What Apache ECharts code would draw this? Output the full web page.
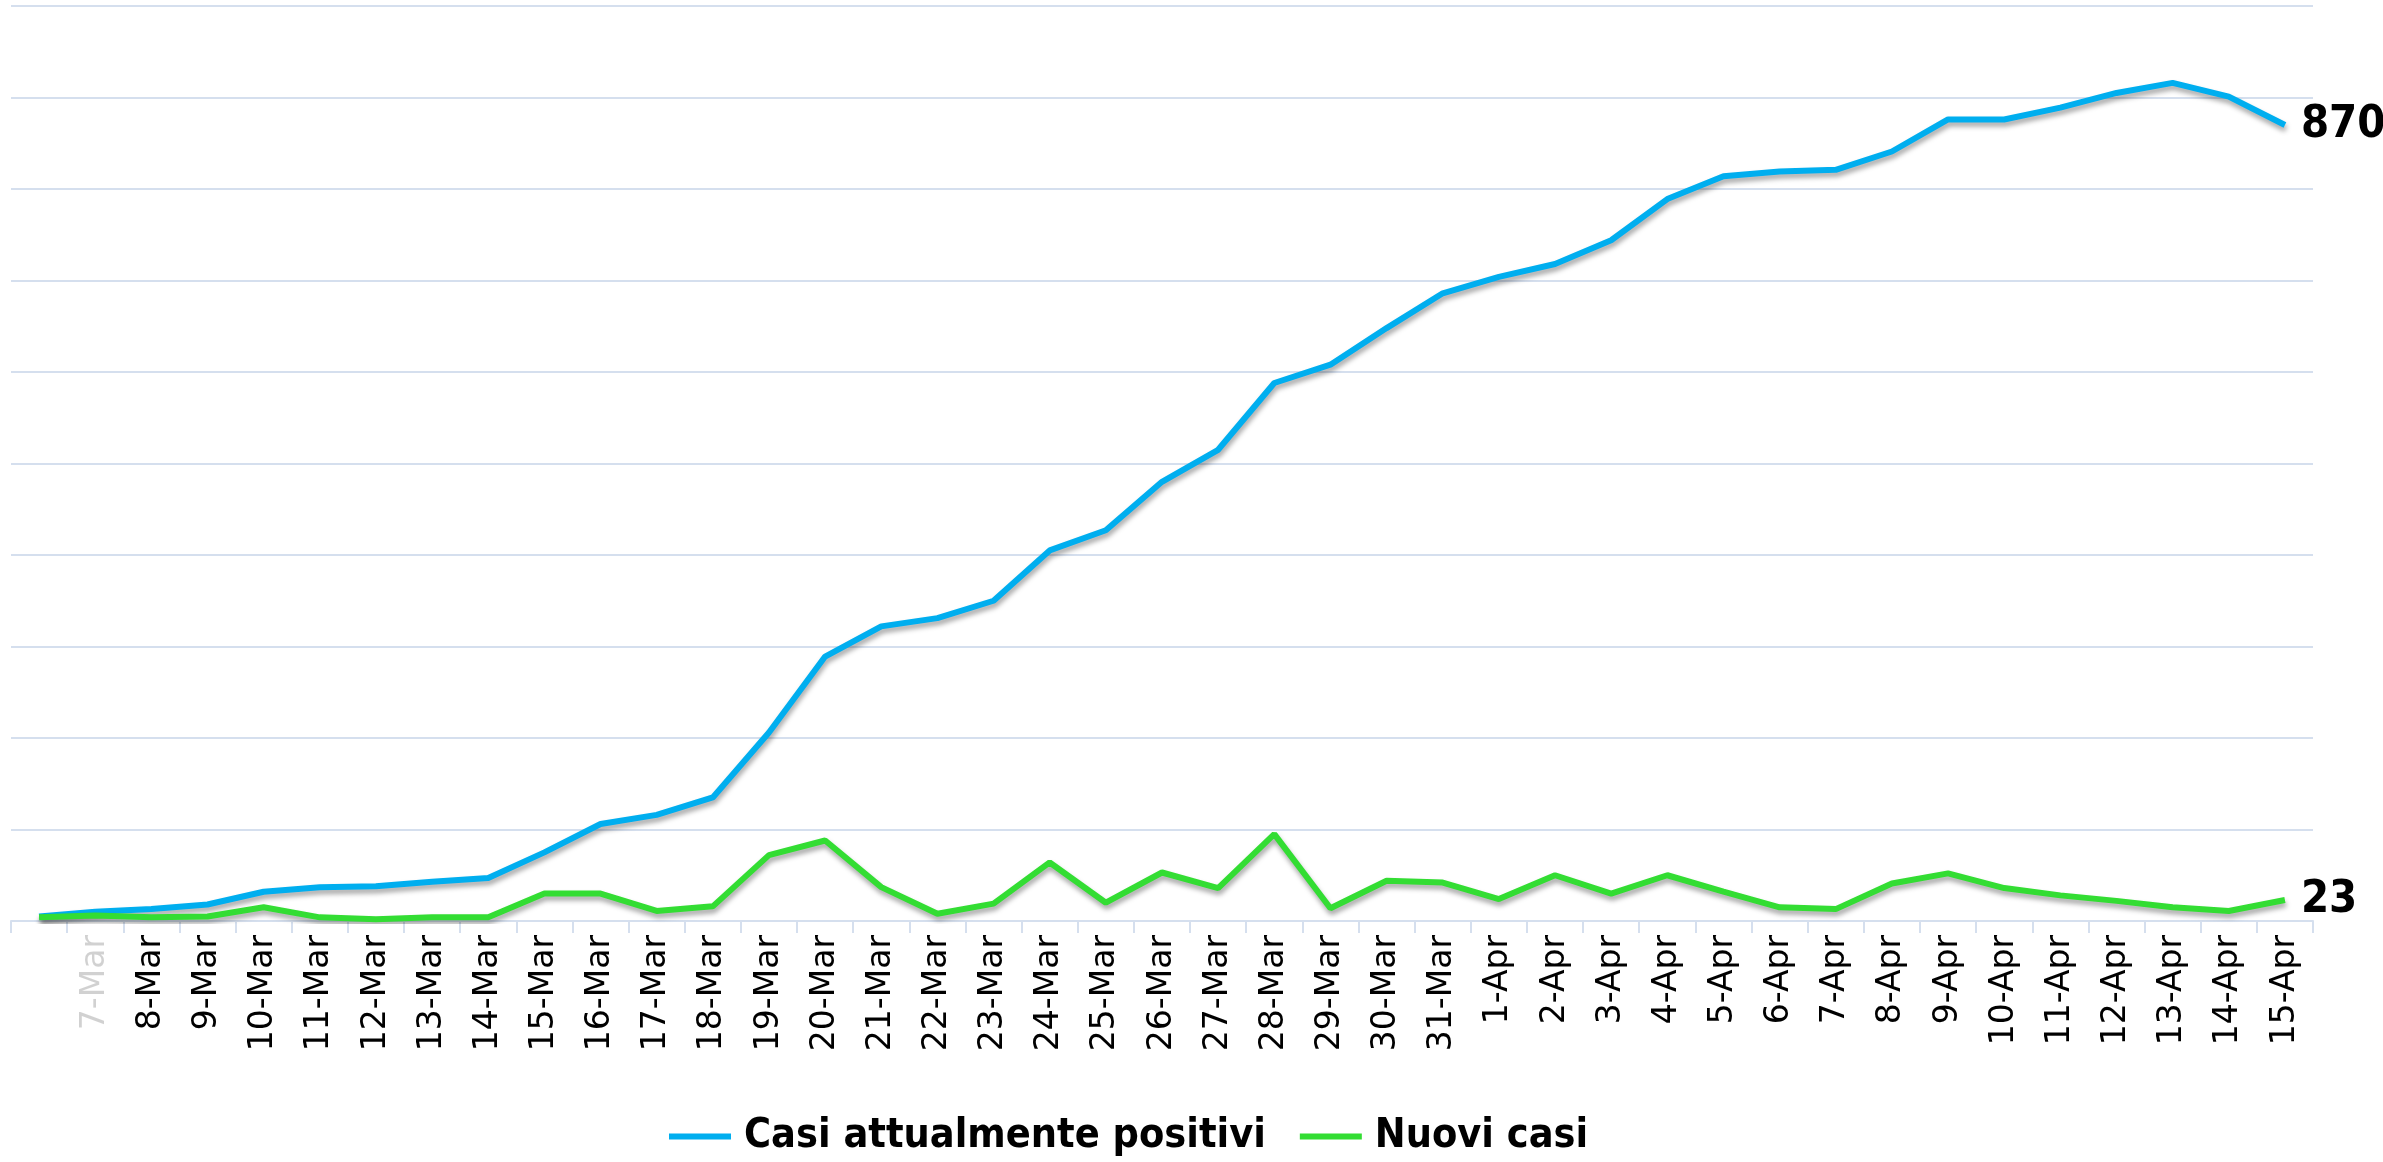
<!DOCTYPE html>
<html><head><meta charset="utf-8">
<script src="https://cdn.jsdelivr.net/npm/echarts@6/dist/echarts.min.js"></script>
<style>html,body{margin:0;padding:0;background:#fff}#c{width:2383px;height:1162px}</style>
</head><body><div id="c"></div>
<script>
const categories = ['6-Mar','7-Mar','8-Mar','9-Mar','10-Mar','11-Mar','12-Mar','13-Mar','14-Mar','15-Mar','16-Mar','17-Mar','18-Mar','19-Mar','20-Mar','21-Mar','22-Mar','23-Mar','24-Mar','25-Mar','26-Mar','27-Mar','28-Mar','29-Mar','30-Mar','31-Mar','1-Apr','2-Apr','3-Apr','4-Apr','5-Apr','6-Apr','7-Apr','8-Apr','9-Apr','10-Apr','11-Apr','12-Apr','13-Apr','14-Apr','15-Apr'];
const positivi = [5,10,13,18,32,37,38,43,47,75,106,116,135,206,289,322,331,350,405,427,480,515,588,608,648,686,704,718,744,789,814,819,821,841,876,876,889,905,916,901,870];
const nuovi = [4,6,4,5,15,4,2,4,4,30,30,11,16,72,88,37,8,19,64,20,53,36,95,14,44,42,24,50,30,50,32,15,13,41,52,36,28,22,15,11,23];
const seriesNames = ['Casi attualmente positivi','Nuovi casi'];

const chart = echarts.init(document.getElementById('c'));
const gridColor = '#D5DFEE';
const condensed = '"Liberation Sans Narrow","DejaVu Sans Condensed",sans-serif';
const xData = categories.map((c, i) => {
  if (i === 0) return {value: c, textStyle: {color: 'rgba(0,0,0,0)'}};
  if (i === 1) return {value: c, textStyle: {color: 'rgba(0,0,0,0.18)'}};
  return c;
});
const shadow = {shadowColor: 'rgba(0,0,0,0.35)', shadowBlur: 5, shadowOffsetY: 4, shadowOffsetX: 1};
const endLbl = {show: true, formatter: '{c}', distance: 16, fontFamily: condensed, fontWeight: 'bold', fontSize: 45, color: '#000'};
chart.setOption({
  animation: false,
  grid: {left: 11, right: 70, top: 6, bottom: 241},
  legend: {
    left: 664, top: 1111, itemWidth: 62, itemHeight: 6, itemGap: 34, icon: 'rect',
    textStyle: {fontFamily: condensed, fontWeight: 'bold', fontSize: 41, color: '#000', padding: [0,0,0,8]},
    data: seriesNames
  },
  xAxis: {
    type: 'category', data: xData, boundaryGap: true,
    axisLine: {lineStyle: {color: gridColor, width: 2}},
    axisTick: {show: true, length: 12, lineStyle: {color: gridColor, width: 2}},
    axisLabel: {rotate: 90, interval: 0, margin: 14, fontFamily: '"DejaVu Sans",sans-serif', fontSize: 33, color: '#000'}
  },
  yAxis: {
    type: 'value', min: 0, max: 1000, interval: 100,
    axisLabel: {show: false}, axisLine: {show: false}, axisTick: {show: false},
    splitLine: {lineStyle: {color: gridColor, width: 2}}
  },
  series: [
    {name: seriesNames[0], type: 'line', data: positivi, showSymbol: false, symbol: 'none',
     lineStyle: Object.assign({color: '#00AEEF', width: 6}, shadow), itemStyle: {color: '#00AEEF'},
     endLabel: endLbl},
    {name: seriesNames[1], type: 'line', data: nuovi, showSymbol: false, symbol: 'none',
     lineStyle: Object.assign({color: '#33DD33', width: 6}, shadow), itemStyle: {color: '#33DD33'},
     endLabel: endLbl}
  ]
});
</script></body></html>
